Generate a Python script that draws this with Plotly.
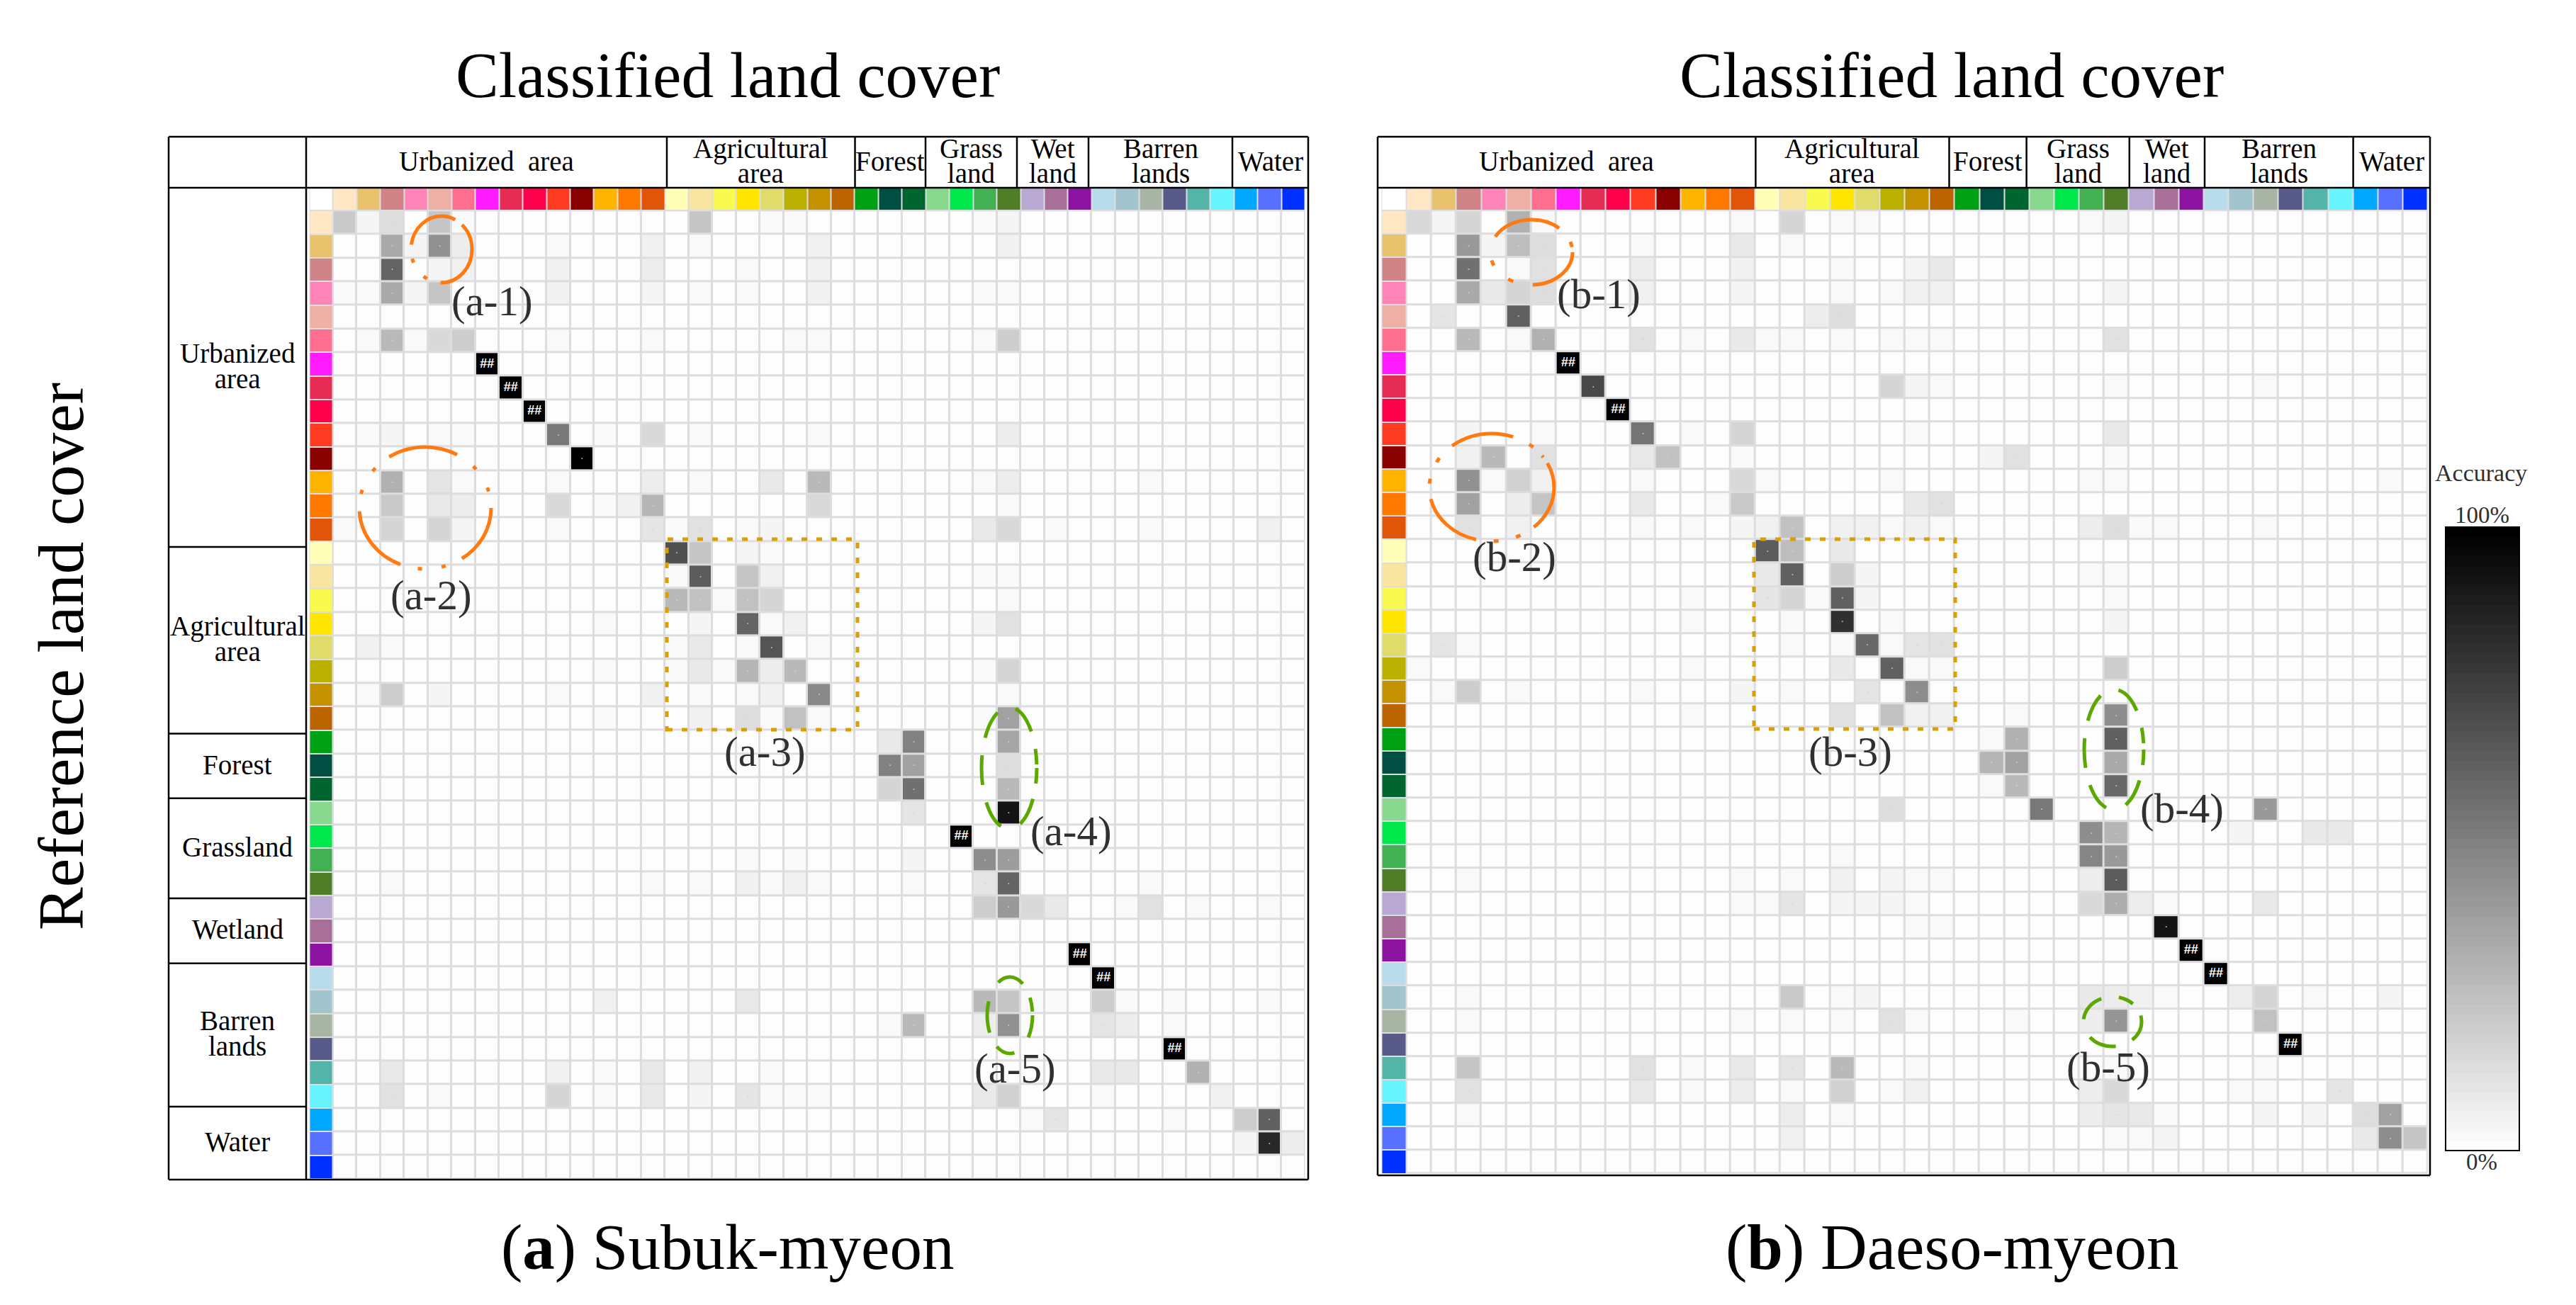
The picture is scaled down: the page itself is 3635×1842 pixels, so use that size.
import plotly.graph_objects as go

W, H = 3635, 1842
SERIF = 'Liberation Serif'
BODY_MARGIN = 8  # the browser's default margin round the plot

CLASS_COLORS = [
    '#ffffff',  # corner
    '#ffe6c4', '#e8c26c', '#d08488', '#ff84b8', '#eeb0a6', '#ff7090', '#ff1cff', '#e62b55', '#ff004d',
    '#ff3c22', '#880000', '#ffb400', '#ff7800', '#e0550a',
    '#ffffb8', '#f9e4a0', '#f8fa50', '#ffe600', '#e0dc6c', '#bab000', '#c49200', '#bc6400',
    '#00a014', '#004f42', '#006530',
    '#88d890', '#00e84c', '#44b054', '#4f7d28',
    '#b8a8d2', '#a87098', '#8c14a0',
    '#b8dcec', '#a2c4cc', '#a8b4a4', '#585a8a', '#54b4a8', '#68f4ff',
    '#00a8ff', '#5870ff', '#0030ff',
]

GROUPS_TOP = ['Urbanized  area', 'Agricultural<br>area', 'Forest', 'Grass<br>land', 'Wet<br>land', 'Barren<br>lands', 'Water']
GROUPS_SIDE = ['Urbanized<br>area', 'Agricultural<br>area', 'Forest', 'Grassland', 'Wetland', 'Barren<br>lands', 'Water']

# (row, column, accuracy %)
cells_a = [
    (0, 0, 21), (0, 1, 4), (0, 2, 13), (0, 4, 23), (0, 5, 3), (0, 15, 23), (0, 18, 2), (0, 19, 2), (0, 27, 3), (0, 28, 4),
    (1, 2, 33), (1, 3, 4), (1, 4, 43), (1, 5, 7), (1, 9, 2), (1, 13, 6), (1, 15, 2), (1, 20, 5), (1, 28, 6),
    (2, 2, 60), (2, 4, 4), (2, 5, 5), (2, 9, 5), (2, 13, 7), (2, 17, 3), (2, 20, 6),
    (3, 0, 3), (3, 1, 2), (3, 2, 33), (3, 3, 4), (3, 4, 22), (3, 9, 5), (3, 13, 4), (3, 15, 3), (3, 17, 2), (3, 18, 1),
    (3, 19, 1), (3, 20, 5), (3, 27, 2), (3, 28, 3),
    (5, 1, 2), (5, 2, 27), (5, 3, 2), (5, 4, 15), (5, 5, 19), (5, 9, 2), (5, 13, 3), (5, 19, 2), (5, 20, 2), (5, 27, 2),
    (5, 28, 19), (5, 30, 1),
    (6, 6, 100), (7, 7, 100), (8, 8, 100),
    (9, 1, 2), (9, 2, 4), (9, 4, 2), (9, 5, 3), (9, 9, 52), (9, 11, 2), (9, 13, 15), (9, 15, 3), (9, 20, 2), (9, 28, 7),
    (10, 10, 99),
    (11, 2, 30), (11, 4, 10), (11, 5, 3), (11, 9, 3), (11, 13, 7), (11, 15, 3), (11, 18, 8), (11, 20, 27), (11, 27, 3),
    (11, 28, 7), (11, 34, 2),
    (12, 2, 21), (12, 4, 8), (12, 5, 7), (12, 9, 15), (12, 11, 3), (12, 12, 5), (12, 13, 29), (12, 20, 15), (12, 28, 2),
    (13, 0, 2), (13, 2, 16), (13, 4, 16), (13, 5, 4), (13, 9, 3), (13, 13, 10), (13, 14, 2), (13, 15, 11), (13, 17, 2),
    (13, 18, 4), (13, 27, 8), (13, 28, 15), (13, 30, 2), (13, 34, 2), (13, 39, 5),
    (14, 14, 68), (14, 15, 23), (14, 17, 4), (14, 18, 3),
    (15, 14, 3), (15, 15, 64), (15, 17, 23), (15, 18, 5), (15, 27, 2), (15, 28, 3),
    (16, 14, 27), (16, 15, 24), (16, 16, 3), (16, 17, 24), (16, 18, 16), (16, 28, 2), (16, 34, 1),
    (17, 11, 2), (17, 15, 4), (17, 17, 60), (17, 18, 2), (17, 19, 6), (17, 27, 4), (17, 28, 12),
    (18, 1, 5), (18, 2, 3), (18, 4, 1), (18, 14, 3), (18, 15, 8), (18, 17, 2), (18, 18, 66), (18, 20, 2),
    (19, 11, 2), (19, 14, 3), (19, 15, 9), (19, 16, 2), (19, 17, 29), (19, 18, 7), (19, 19, 27), (19, 27, 3), (19, 28, 16),
    (20, 1, 3), (20, 2, 19), (20, 4, 4), (20, 9, 3), (20, 13, 5), (20, 14, 1), (20, 15, 2), (20, 17, 2), (20, 18, 6),
    (20, 20, 46), (20, 28, 2),
    (21, 11, 2), (21, 15, 5), (21, 17, 13), (21, 18, 2), (21, 19, 24), (21, 20, 3), (21, 24, 1), (21, 27, 2), (21, 28, 37),
    (22, 22, 1), (22, 23, 8), (22, 24, 49), (22, 28, 35),
    (23, 23, 49), (23, 24, 37), (23, 28, 13),
    (24, 23, 16), (24, 24, 56), (24, 28, 27),
    (25, 23, 1), (25, 24, 10), (25, 28, 92),
    (26, 26, 100),
    (27, 17, 3), (27, 19, 3), (27, 24, 4), (27, 27, 45), (27, 28, 38),
    (28, 2, 2), (28, 13, 2), (28, 15, 2), (28, 17, 6), (28, 18, 2), (28, 19, 5), (28, 20, 2), (28, 24, 3), (28, 27, 10),
    (28, 28, 60), (28, 34, 2),
    (29, 27, 19), (29, 28, 40), (29, 29, 15), (29, 30, 8), (29, 33, 2), (29, 34, 11), (29, 36, 2), (29, 39, 3),
    (31, 31, 100), (32, 32, 100),
    (33, 11, 5), (33, 17, 8), (33, 27, 27), (33, 28, 23), (33, 29, 3), (33, 30, 2), (33, 32, 19), (33, 33, 3), (33, 35, 2),
    (33, 39, 2),
    (34, 23, 3), (34, 24, 27), (34, 27, 7), (34, 28, 43), (34, 32, 10), (34, 33, 7), (34, 35, 2),
    (35, 35, 100),
    (36, 2, 9), (36, 9, 5), (36, 11, 3), (36, 13, 9), (36, 15, 6), (36, 18, 3), (36, 20, 1), (36, 32, 9), (36, 33, 8),
    (36, 36, 30),
    (37, 2, 11), (37, 4, 2), (37, 5, 1), (37, 9, 16), (37, 11, 2), (37, 13, 8), (37, 15, 4), (37, 17, 10), (37, 18, 3),
    (37, 19, 3), (37, 20, 2), (37, 27, 8), (37, 28, 18), (37, 32, 2), (37, 37, 5),
    (38, 29, 3), (38, 30, 10), (38, 35, 2), (38, 38, 19), (38, 39, 62),
    (39, 30, 1), (39, 38, 4), (39, 39, 83), (39, 40, 7),
]

cells_b = [
    (0, 0, 15), (0, 1, 4), (0, 2, 16), (0, 4, 30), (0, 5, 2), (0, 13, 2), (0, 15, 16), (0, 16, 1), (0, 17, 3), (0, 18, 2),
    (0, 27, 3), (0, 28, 4),
    (1, 2, 40), (1, 3, 4), (1, 4, 26), (1, 5, 13), (1, 9, 3), (1, 13, 8), (1, 15, 3),
    (2, 2, 56), (2, 4, 2), (2, 5, 11), (2, 9, 7), (2, 13, 5), (2, 17, 2), (2, 20, 4), (2, 21, 9),
    (3, 2, 34), (3, 3, 8), (3, 4, 16), (3, 5, 13), (3, 9, 5), (3, 13, 4), (3, 17, 2), (3, 19, 2), (3, 20, 6), (3, 21, 6),
    (3, 28, 4),
    (4, 1, 10), (4, 4, 62), (4, 16, 7), (4, 17, 13),
    (5, 2, 27), (5, 4, 3), (5, 5, 30), (5, 9, 11), (5, 11, 2), (5, 13, 8), (5, 14, 2), (5, 15, 3), (5, 17, 3), (5, 19, 2),
    (5, 20, 2), (5, 21, 2), (5, 28, 11),
    (6, 6, 100),
    (7, 7, 71), (7, 19, 16), (7, 20, 4), (7, 21, 3), (7, 28, 3), (7, 34, 2),
    (8, 8, 100),
    (9, 2, 4), (9, 5, 3), (9, 9, 54), (9, 11, 3), (9, 13, 16), (9, 20, 2), (9, 28, 8),
    (10, 2, 6), (10, 3, 27), (10, 5, 11), (10, 9, 8), (10, 10, 24), (10, 13, 3), (10, 23, 4), (10, 24, 12), (10, 28, 2),
    (11, 2, 43), (11, 3, 2), (11, 4, 18), (11, 5, 5), (11, 9, 3), (11, 13, 15), (11, 14, 3), (11, 19, 2), (11, 27, 2),
    (11, 28, 2), (11, 39, 3),
    (12, 2, 37), (12, 4, 7), (12, 5, 22), (12, 9, 8), (12, 12, 3), (12, 13, 21), (12, 20, 8), (12, 21, 11),
    (13, 2, 11), (13, 4, 5), (13, 9, 3), (13, 11, 2), (13, 13, 4), (13, 14, 5), (13, 15, 24), (13, 17, 6), (13, 18, 5),
    (13, 19, 3), (13, 20, 5), (13, 21, 3), (13, 27, 7), (13, 28, 13), (13, 29, 3), (13, 30, 2), (13, 34, 3),
    (14, 14, 63), (14, 15, 26), (14, 17, 8),
    (15, 14, 8), (15, 15, 62), (15, 17, 19), (15, 18, 4), (15, 27, 2), (15, 28, 2),
    (16, 11, 2), (16, 14, 10), (16, 15, 16), (16, 16, 2), (16, 17, 62), (16, 18, 4), (16, 28, 2),
    (17, 11, 2), (17, 15, 3), (17, 17, 80), (17, 19, 3), (17, 28, 4),
    (18, 0, 1), (18, 1, 10), (18, 2, 3), (18, 4, 1), (18, 15, 3), (18, 17, 2), (18, 18, 58), (18, 19, 3), (18, 20, 10),
    (18, 21, 11),
    (19, 0, 2), (19, 11, 2), (19, 17, 8), (19, 19, 62), (19, 20, 3), (19, 21, 2), (19, 24, 1), (19, 27, 1), (19, 28, 19),
    (20, 1, 3), (20, 2, 19), (20, 4, 2), (20, 9, 2), (20, 13, 4), (20, 15, 2), (20, 18, 10), (20, 20, 45), (20, 28, 1),
    (21, 11, 2), (21, 17, 11), (21, 19, 24), (21, 20, 5), (21, 21, 5), (21, 23, 1), (21, 24, 3), (21, 28, 45), (21, 34, 1),
    (22, 23, 2), (22, 24, 30), (22, 28, 62),
    (23, 23, 29), (23, 24, 37), (23, 28, 33),
    (24, 23, 3), (24, 24, 27), (24, 28, 58), (24, 29, 2),
    (25, 7, 1), (25, 19, 13), (25, 25, 52), (25, 34, 40),
    (26, 17, 1), (26, 27, 45), (26, 28, 29), (26, 33, 4), (26, 36, 9), (26, 37, 9),
    (27, 17, 2), (27, 24, 1), (27, 27, 47), (27, 28, 40),
    (28, 2, 2), (28, 13, 2), (28, 15, 2), (28, 17, 5), (28, 19, 4), (28, 20, 2), (28, 21, 2), (28, 24, 1), (28, 27, 7),
    (28, 28, 63), (28, 34, 1),
    (29, 2, 1), (29, 4, 1), (29, 13, 2), (29, 14, 3), (29, 15, 10), (29, 17, 4), (29, 18, 4), (29, 19, 4), (29, 20, 2),
    (29, 27, 15), (29, 28, 32), (29, 29, 7), (29, 30, 2), (29, 34, 8), (29, 36, 1),
    (30, 20, 2), (30, 21, 3), (30, 30, 92),
    (31, 31, 100), (32, 32, 100),
    (33, 2, 2), (33, 15, 21), (33, 17, 3), (33, 18, 4), (33, 27, 8), (33, 28, 7), (33, 29, 5), (33, 30, 2), (33, 33, 7),
    (33, 34, 16), (33, 36, 3), (33, 39, 4),
    (34, 2, 2), (34, 7, 1), (34, 13, 2), (34, 15, 3), (34, 17, 2), (34, 19, 11), (34, 20, 2), (34, 24, 2), (34, 27, 7),
    (34, 28, 41), (34, 34, 24),
    (35, 35, 100),
    (36, 2, 22), (36, 9, 11), (36, 11, 3), (36, 13, 9), (36, 15, 10), (36, 17, 27), (36, 20, 2), (36, 21, 1), (36, 28, 2),
    (36, 34, 2),
    (37, 2, 11), (37, 4, 1), (37, 9, 8), (37, 11, 2), (37, 13, 7), (37, 15, 3), (37, 17, 18), (37, 19, 2), (37, 20, 5),
    (37, 27, 7), (37, 28, 15), (37, 33, 3), (37, 34, 3), (37, 37, 10),
    (38, 2, 2), (38, 15, 7), (38, 17, 2), (38, 27, 7), (38, 28, 10), (38, 29, 8), (38, 30, 3), (38, 34, 4), (38, 36, 4),
    (38, 38, 13), (38, 39, 37),
    (39, 15, 5), (39, 28, 3), (39, 29, 2), (39, 30, 4), (39, 38, 8), (39, 39, 45), (39, 40, 23),
]

N_CLASSES = 41

# px layout of the two tables
PANEL_A = dict(name='a', left=238, right=1846, top=193, head=265, bottom=1665,
               grid=(436.5, 1841.5, 264, 1664),
               top_edges=[432, 941, 1206.5, 1306, 1435, 1536, 1739, 1846],
               side_edges=[265, 772, 1035.5, 1126.7, 1268, 1359.8, 1561.9, 1665])
PANEL_B = dict(name='b', left=1944, right=3429, top=193, head=265, bottom=1659,
               grid=(1949.5, 3425.7, 264, 1656.6),
               top_edges=[1944, 2477.4, 2750.5, 2859.6, 3004.8, 3111, 3320.6, 3429],
               side_edges=None)

ORANGE = '#ff7a10'
GREEN = '#5aa800'
GOLD = '#d8a000'

# cx, cy, rx, ry, dash
RINGS = [
    (623, 352, 43, 47, ORANGE, '72px,20px,6px,24px,6px,20px,84px,12px'),
    (600, 717, 93, 86, ORANGE, '86px,25px,6px,28px,6px,25px,100px,25px,6px,30px,6px,25px,100px,28px,6px,30px,6px,25px,30px,10px'),
    (1424, 1084, 39, 86, GREEN, '22px,22px,40px,30px,40px,25px,42px,25px,40px,28px,40px,25px,22px,10px'),
    (1425, 1433, 32, 54, GREEN, '32px,30px,28px,22px,45px,30px,40px,22px,20px,10px'),
    (2161, 356, 58, 46, ORANGE, '80px,28px,8px,28px,8px,35px,100px,25px,8px,20px,8px,10px'),
    (2105, 688, 88, 76, ORANGE, '65px,22px,7px,25px,7px,25px,90px,22px,7px,25px,7px,25px,90px,25px,7px,17px,3px,10px'),
    (2983, 1058, 42, 85, GREEN, '22px,22px,40px,30px,40px,25px,42px,25px,40px,28px,40px,25px,22px,10px'),
    (2981, 1442, 41, 35, GREEN, '30px,25px,40px,28px,40px,25px,22px,20px,20px,10px'),
]
BOXES = [(941, 761, 1210, 1030), (2475, 761, 2759, 1029)]

TAGS = ['(a-1)', '(a-2)', '(a-3)', '(a-4)', '(a-5)', '(b-1)', '(b-2)', '(b-3)', '(b-4)', '(b-5)']
TAG_X = [694, 608, 1079, 1511, 1432, 2256, 2137, 2611, 3079, 2975]
TAG_Y = [425, 840, 1061, 1173, 1508, 415, 786, 1061, 1141, 1506]


def gray_scale(levels=64):
    stops = []
    for i in range(levels):
        g = round(253 * (1 - i / (levels - 1)))
        color = f'rgb({g},{g},{min(g + 1, 255)})'
        stops.append([i / levels, color])
        stops.append([(i + 1) / levels, color])
    return stops


def fx(px):
    return (px - BODY_MARGIN) / W


def fy(py):
    return 1 - (py - BODY_MARGIN) / H


def strip_scale():
    n = len(CLASS_COLORS)
    stops = []
    for i, color in enumerate(CLASS_COLORS):
        stops.append([i / n, color])
        stops.append([(i + 1) / n, color])
    return stops


def build_z(cells):
    z = [[0 for _ in range(N_CLASSES)] for _ in range(N_CLASSES)]
    for row, col, value in cells:
        z[row][col] = value
    return z


def add_panel(fig, cells, axis):
    xa, ya = f'x{axis}', f'y{axis}'
    idx = list(range(N_CLASSES))

    fig.add_trace(go.Heatmap(z=build_z(cells), x=idx, y=idx, coloraxis='coloraxis', xgap=3, ygap=3,
                             xaxis=xa, yaxis=ya, hoverinfo='skip'))

    # colour keys along the top and down the left
    n = len(CLASS_COLORS)
    strip = [[None for _ in range(N_CLASSES + 1)] for _ in range(N_CLASSES + 1)]
    strip[0] = [(i + 0.5) / n for i in range(n)]
    for i in range(N_CLASSES):
        strip[i + 1][0] = (i + 1.5) / n
    fig.add_trace(go.Heatmap(z=strip, x=list(range(-1, N_CLASSES)), y=list(range(-1, N_CLASSES)),
                             colorscale=strip_scale(), zmin=0, zmax=1, showscale=False, xgap=2, ygap=2,
                             xaxis=xa, yaxis=ya, hoverinfo='skip'))

    # cell read-outs, too small to read in the original as well
    full = [c for c in cells if c[2] == 100]
    rest = [c for c in cells if 10 <= c[2] < 100]
    fig.add_trace(go.Scatter(x=[c[1] for c in rest], y=[c[0] for c in rest], mode='text', text=['·'] * len(rest),
                             textfont=dict(family='Liberation Sans', size=15, color='#d0d4d8'),
                             xaxis=xa, yaxis=ya, showlegend=False, hoverinfo='skip'))
    fig.add_trace(go.Scatter(x=[c[1] for c in full], y=[c[0] for c in full], mode='text', text=['##'] * len(full),
                             textfont=dict(family='Liberation Sans', size=18, color='#ffffff', weight='bold'),
                             xaxis=xa, yaxis=ya, showlegend=False, hoverinfo='skip'))


def line(x0, y0, x1, y1, color='#000000', width=2.5, dash=None):
    return dict(type='line', xref='paper', yref='paper', x0=fx(x0), y0=fy(y0), x1=fx(x1), y1=fy(y1),
                line=dict(color=color, width=width, dash=dash))


def table_shapes(p):
    res = [
        line(p['left'], p['top'], p['right'], p['top']),
        line(p['left'], p['bottom'], p['right'], p['bottom']),
        line(p['left'], p['top'], p['left'], p['bottom']),
        line(p['right'], p['top'], p['right'], p['bottom']),
        line(p['left'], p['head'], p['right'], p['head']),
    ]
    for x in p['top_edges'][1:-1]:
        res.append(line(x, p['top'], x, p['head']))
    if p['side_edges']:
        x = p['top_edges'][0]
        res.append(line(x, p['top'], x, p['bottom']))
        for y in p['side_edges'][1:-1]:
            res.append(line(p['left'], y, x, y))
    return res


def text(x, y, label, size, color='#000000', angle=0, family=SERIF):
    return dict(x=fx(x), y=fy(y), xref='paper', yref='paper', text=label, showarrow=False, textangle=angle,
                xanchor='center', yanchor='middle', font=dict(family=family, size=size, color=color))


def stacked_text(x, y, label, size, spacing):
    # plotly takes the line height from the annotation's own font size, so the tight
    # two-line labels set that to the spacing wanted and size the glyphs with a span
    rows = label.split('<br>')
    if len(rows) == 1:
        return text(x, y, label, size)
    inner = '<br>'.join(f'<span style="font-size:{size}px">{row}</span>' for row in rows)
    return text(x, y, inner, spacing / 1.3)


def table_labels(p):
    res = []
    edges = p['top_edges']
    for i, label in enumerate(GROUPS_TOP):
        res.append(stacked_text((edges[i] + edges[i + 1]) / 2, (p['top'] + p['head']) / 2 - 2, label, 39, 35))
    if p['side_edges']:
        edges = p['side_edges']
        for i, label in enumerate(GROUPS_SIDE):
            y = (edges[i] + edges[i + 1]) / 2 - 2
            res.append(stacked_text((p['left'] + p['top_edges'][0]) / 2, y, label, 39, 36))
    return res


def axis_range(grid):
    x0, x1, y0, y1 = grid
    return (dict(domain=[fx(x0), fx(x1)], range=[-1.5, N_CLASSES - 0.5], visible=False, fixedrange=True),
            dict(domain=[fy(y1), fy(y0)], range=[N_CLASSES - 0.5, -1.5], visible=False, fixedrange=True))


fig = go.Figure()
add_panel(fig, cells_a, '')
add_panel(fig, cells_b, '2')

xa1, ya1 = axis_range(PANEL_A['grid'])
xa2, ya2 = axis_range(PANEL_B['grid'])

shapes = table_shapes(PANEL_A) + table_shapes(PANEL_B)
for cx, cy, rx, ry, color, dash in RINGS:
    shapes.append(dict(type='circle', xref='paper', yref='paper', x0=fx(cx - rx), x1=fx(cx + rx),
                       y0=fy(cy + ry), y1=fy(cy - ry), line=dict(color=color, width=5, dash=dash)))
for x0, y0, x1, y1 in BOXES:
    shapes.append(dict(type='rect', xref='paper', yref='paper', x0=fx(x0), x1=fx(x1), y0=fy(y1), y1=fy(y0),
                       line=dict(color=GOLD, width=5, dash='8px,13px')))

annotations = table_labels(PANEL_A) + table_labels(PANEL_B)
annotations += [text(x, y, t, 59, '#303030') for t, x, y in zip(TAGS, TAG_X, TAG_Y)]
annotations += [
    text(1027, 106, 'Classified land cover', 91),
    text(2754, 106, 'Classified land cover', 91),
    text(86, 927, 'Reference land cover', 91, angle=-90),
    text(1027, 1760, '(<b>a</b>) Subuk-myeon', 91),
    text(2754, 1760, '(<b>b</b>) Daeso-myeon', 91),
    text(3501, 668, 'Accuracy', 34, '#303030'),
    text(3502, 727, '100%', 33, '#303030'),
    text(3502, 1640, '0%', 33, '#303030'),
]

fig.update_layout(
    width=W, height=H,
    margin=dict(l=0, r=0, t=0, b=0),
    paper_bgcolor='#ffffff',
    plot_bgcolor='#dddddf',
    showlegend=False,
    xaxis=xa1, yaxis=ya1, xaxis2=xa2, yaxis2=ya2,
    coloraxis=dict(
        colorscale=gray_scale(), cmin=0, cmax=100,
        colorbar=dict(x=fx(3451), xanchor='left', y=fy(1624), yanchor='bottom',
                      len=880, lenmode='pixels', thickness=104, thicknessmode='pixels',
                      xpad=0, ypad=0, ticks='', showticklabels=False,
                      outlinecolor='#000000', outlinewidth=2),
    ),
    shapes=shapes,
    annotations=annotations,
)

fig.write_html("out.html")
